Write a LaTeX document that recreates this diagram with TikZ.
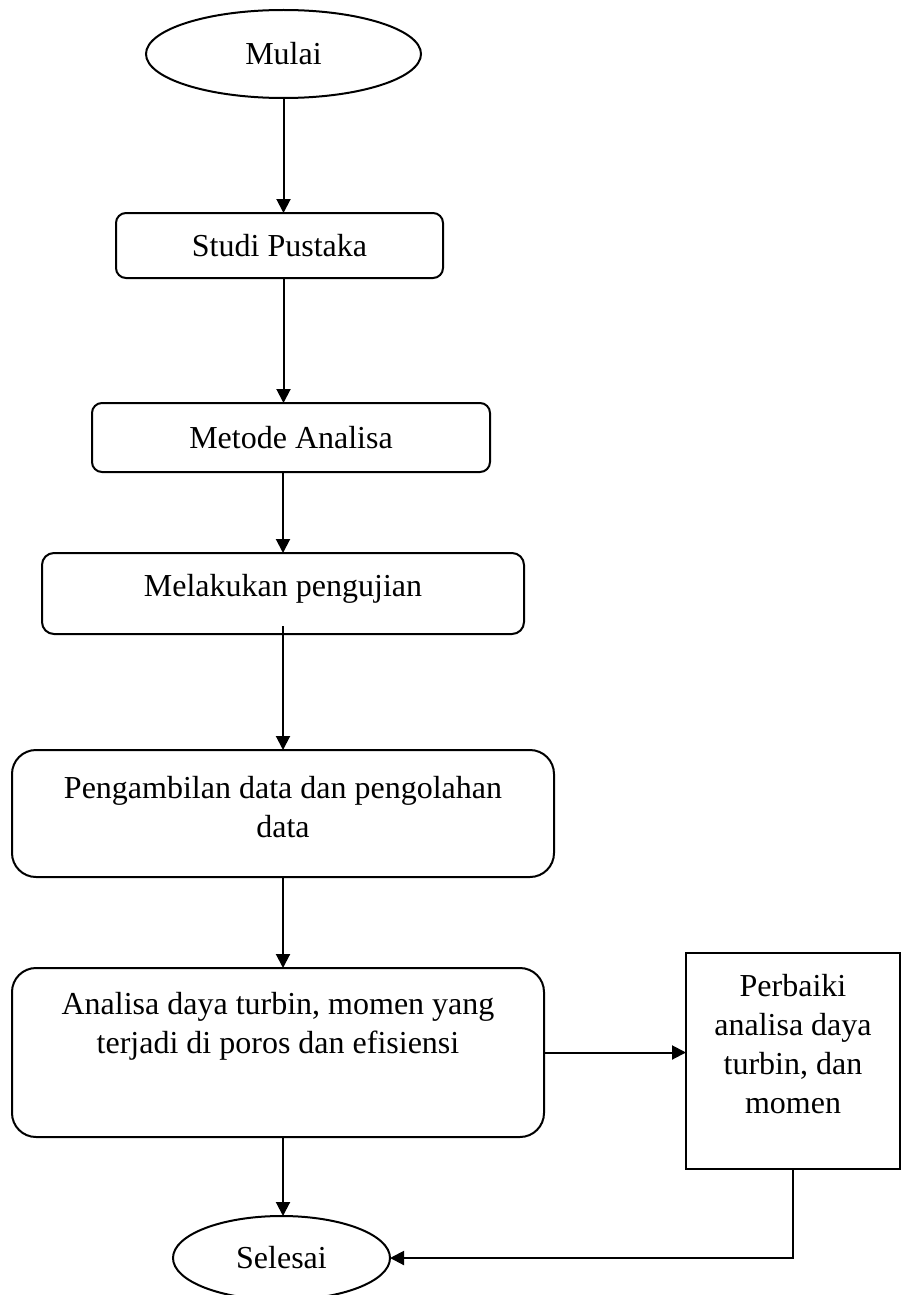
\documentclass[tikz,border=0pt]{standalone}
\usepackage{fontspec}
\setmainfont{Liberation Serif}
\usepackage{tikz}
\usetikzlibrary{shapes.geometric, arrows.meta, positioning}
\tikzset{
  awal/.style={ellipse, draw=black, line width=1pt, inner sep=2pt, outer sep=0pt,
    align=center, font=\fontsize{16}{19.5}\selectfont},
  proses/.style={rectangle, rounded corners=5pt, draw=black, line width=1pt,
    inner sep=2pt, outer sep=0pt, align=center, font=\fontsize{16}{19.5}\selectfont},
  prosesb/.style={proses, rounded corners=12pt},
  kotak/.style={proses, rounded corners=0pt},
  panah/.style={-{Triangle[length=7pt, width=7pt]}, line width=1pt, color=black}
}
\begin{document}
\begin{tikzpicture}[x=0.5pt, y=-0.5pt]
  \useasboundingbox (0,0) rectangle (904,1295);
  \node[awal, minimum width=137.5pt, minimum height=44pt] (mulai) at (283.5,54) {Mulai};
  \node[proses, minimum width=163.5pt, minimum height=32.5pt,
    below=57.5pt of mulai, xshift=-2pt] (studi) {Studi Pustaka};
  \node[proses, minimum width=199pt, minimum height=34.5pt,
    below=62.5pt of studi, xshift=5.75pt] (metode) {Metode Analisa};
  \node[proses, rounded corners=6pt, minimum width=241pt, minimum height=40.5pt, text depth=8pt,
    below=40.5pt of metode, xshift=-4pt] (uji) {Melakukan pengujian};
  \node[prosesb, minimum width=271pt, minimum height=63.5pt, text depth=6.5pt,
    below=58pt of uji] (ambil) {Pengambilan data dan pengolahan\\data};
  \node[prosesb, minimum width=266pt, minimum height=84.5pt, text depth=29.5pt,
    below=45.5pt of ambil, xshift=-2.5pt] (analisa)
    {Analisa daya turbin, momen yang\\terjadi di poros dan efisiensi};
  \node[kotak, minimum width=107pt, minimum height=108pt, text depth=17pt,
    right=71pt of analisa, yshift=-4.25pt] (perbaiki)
    {Perbaiki\\analisa daya\\turbin, dan\\momen};
  \node[awal, minimum width=108.5pt, minimum height=42pt,
    below=39.5pt of analisa, xshift=1.75pt] (selesai) {Selesai};
  \draw[panah] (mulai) -- (mulai |- studi.north);
  \draw[panah] (mulai |- studi.south) -- (mulai |- metode.north);
  \draw[panah] (uji |- metode.south) -- (uji);
  \draw[panah] ([yshift=4pt]uji.south) -- (ambil);
  \draw[panah] (ambil) -- (ambil |- analisa.north);
  \draw[panah] (ambil |- analisa.south) -- (ambil |- selesai.north);
  \draw[panah] (analisa.east) -- (analisa.east -| perbaiki.west);
  \draw[panah] (perbaiki) |- (selesai);
\end{tikzpicture}
\end{document}
